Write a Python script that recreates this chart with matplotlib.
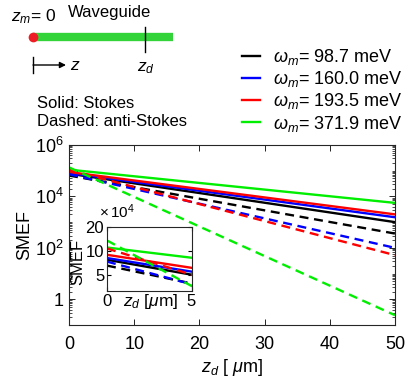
import numpy as np
import matplotlib
matplotlib.use('Agg')
import matplotlib.pyplot as plt
from matplotlib.ticker import FixedLocator, FixedFormatter, LogLocator, NullLocator, NullFormatter

plt.rcParams['font.family'] = ['Liberation Sans', 'DejaVu Sans']
plt.rcParams['mathtext.fontset'] = 'custom'
plt.rcParams['mathtext.rm'] = 'Liberation Sans'
plt.rcParams['mathtext.it'] = 'Liberation Sans:italic'
plt.rcParams['font.size'] = 13

# distance from the molecule, um
z_d = [0, 2.5, 5, 7.5, 10, 12.5, 15, 17.5, 20, 22.5, 25, 27.5, 30, 32.5, 35, 37.5, 40, 42.5, 45, 47.5, 50]

labels = [r'$\omega_m$= 98.7 meV', r'$\omega_m$= 160.0 meV',
          r'$\omega_m$= 193.5 meV', r'$\omega_m$= 371.9 meV']
colors = ['#000000', '#0000ff', '#ff0000', '#00ee00']

# Stokes (solid)
stokes_98 = [77000, 61980, 49880, 40150, 32310, 26000, 20930, 16840, 13560, 10910, 8780,
             7068, 5687, 4577, 3684, 2965, 2386, 1920, 1546, 1244, 1001]
stokes_160 = [81000, 66460, 54540, 44750, 36720, 30130, 24730, 20290, 16650, 13660, 11210,
              9196, 7546, 6192, 5081, 4169, 3421, 2807, 2304, 1890, 1551]
stokes_193 = [89000, 73620, 60900, 50380, 41670, 34470, 28510, 23590, 19510, 16140, 13350,
              11040, 9130, 7555, 6250, 5170, 4276, 3537, 2926, 2421, 2002]
stokes_371 = [110000, 94800, 81700, 70400, 60660, 52260, 45040, 38800, 33440, 28820, 24830,
              21390, 18430, 15880, 13690, 11790, 10160, 8757, 7546, 6502, 5603]

# anti-Stokes (dashed)
anti_98 = [65000, 50120, 38660, 29810, 22990, 17730, 13670, 10540, 8130, 6270, 4835,
           3728, 2875, 2217, 1710, 1319, 1017, 784.3, 604.8, 466.5, 359.7]
anti_160 = [73000, 52510, 37760, 27160, 19530, 14050, 10100, 7265, 5225, 3758, 2702,
            1944, 1398, 1005, 723, 520, 374, 269, 193.4, 139.1, 100]
anti_193 = [107000, 73070, 49910, 34080, 23270, 15890, 10850, 7411, 5060, 3456, 2360,
            1612, 1100, 751.5, 513, 350.4, 239.3, 163.4, 111.6, 76.2, 52.05]
anti_371 = [135000, 69640, 35930, 18530, 9557, 4930, 2543, 1312, 676.6, 349.0, 180.0,
            92.86, 47.9, 24.71, 12.74, 6.574, 3.391, 1.749, 0.902, 0.4655, 0.2401]

stokes = [stokes_98, stokes_160, stokes_193, stokes_371]
anti = [anti_98, anti_160, anti_193, anti_371]

W, H = 415, 380
fig = plt.figure(figsize=(W / 100, H / 100), dpi=100)

def box(l, t, r, b):
    return [l / W, (H - b) / H, (r - l) / W, (b - t) / H]

dash = (3.8, 2.4)
lw = 1.7

# main axes
ax = fig.add_axes(box(69, 145, 395, 325))
handles = []
for s, c in zip(stokes, colors):
    h, = ax.plot(z_d, s, color=c, lw=lw)
    handles.append(h)
for a, c in zip(anti, colors):
    ax.plot(z_d, a, color=c, lw=lw, dashes=dash)
ax.set_yscale('log')
ax.set_xlim(0, 50)
ax.set_ylim(0.1, 1e6)
ax.set_xticks([0, 10, 20, 30, 40, 50])
ax.yaxis.set_major_locator(FixedLocator([1, 1e2, 1e4, 1e6]))
ax.yaxis.set_major_formatter(FixedFormatter(['1', r'$10^2$', r'$10^4$', r'$10^6$']))
ax.yaxis.set_minor_locator(LogLocator(base=10, subs=np.arange(1, 10), numticks=50))
ax.yaxis.set_minor_formatter(NullFormatter())
ax.tick_params(which='both', direction='in', top=True, right=True, labelsize=13)
ax.tick_params(which='major', length=4, width=0.6)
ax.tick_params(which='minor', length=2, width=0.5)
ax.tick_params(axis='x', pad=8)
ax.tick_params(axis='y', pad=4)
for sp in ax.spines.values():
    sp.set_linewidth(0.8)
    sp.set_color('#262626')
ax.set_xlabel(r'$z_d$ [ $\mu$m]', fontsize=13, labelpad=3)
ax.set_ylabel('SMEF', fontsize=13, labelpad=1)

# inset
axi = fig.add_axes(box(107, 227, 191.5, 291))
for s, c in zip(stokes, colors):
    axi.plot(z_d, s, color=c, lw=lw)
for a, c in zip(anti, colors):
    axi.plot(z_d, a, color=c, lw=lw, dashes=dash)
axi.set_yscale('log')
axi.set_xlim(0, 5)
axi.set_ylim(3.1e4, 2e5)
axi.set_xticks([0, 5])
axi.yaxis.set_major_locator(FixedLocator([5e4, 1e5, 2e5]))
axi.yaxis.set_major_formatter(FixedFormatter(['5', '10', '20']))
axi.yaxis.set_minor_locator(NullLocator())
axi.tick_params(which='both', direction='in', top=True, right=True, labelsize=12, length=3, pad=2)
for sp in axi.spines.values():
    sp.set_linewidth(0.8)
    sp.set_color('#262626')
axi.set_xlabel(r'$z_d$ [$\mu$m]', fontsize=12.5)
axi.xaxis.label.set_va('center')
axi.xaxis.set_label_coords(0.52, -0.17)
axi.set_ylabel('SMEF', fontsize=12)
axi.yaxis.label.set_va('center')
axi.yaxis.set_label_coords(-0.34, 0.45)
axi.text(-0.10, 1.10, r'$\times\,10^4$', transform=axi.transAxes, fontsize=11,
         ha='left', va='bottom')

# legend
fig.legend(handles, labels, loc='upper left', bbox_to_anchor=(242 / W, 1 - 47 / H),
           frameon=False, fontsize=13, handlelength=1.0, handletextpad=0.7,
           labelspacing=0.12, borderpad=0, borderaxespad=0)

# schematic
top = fig.add_axes([0, 0, 1, 1], zorder=-1)
top.set_xlim(0, W)
top.set_ylim(H, 0)
top.axis('off')
top.plot([33, 173], [37, 37], color='#33d43a', lw=6, solid_capstyle='butt')
top.plot([33], [37], 'o', color='#ee1c24', ms=7, mec='none')
top.plot([145, 145], [27, 52], color='k', lw=1)
top.plot([33, 33], [57, 73], color='k', lw=1)
top.annotate('', xy=(66, 65), xytext=(33, 65),
             arrowprops=dict(arrowstyle='-|>', color='k', lw=1, mutation_scale=9, shrinkA=0, shrinkB=0))
top.text(70, 65, r'$z$', fontsize=12.5, ha='left', va='center')
top.text(137, 68, r'$z_d$', fontsize=12.5, ha='left', va='center')
top.text(11, 17, r'$z_m$= 0', fontsize=12.5, ha='left', va='center')
top.text(68, 12, 'Waveguide', fontsize=12, ha='left', va='center')
top.text(37, 103, 'Solid: Stokes', fontsize=12, ha='left', va='center')
top.text(37, 121, 'Dashed: anti-Stokes', fontsize=12, ha='left', va='center')

fig.savefig('out.png', dpi=100)
